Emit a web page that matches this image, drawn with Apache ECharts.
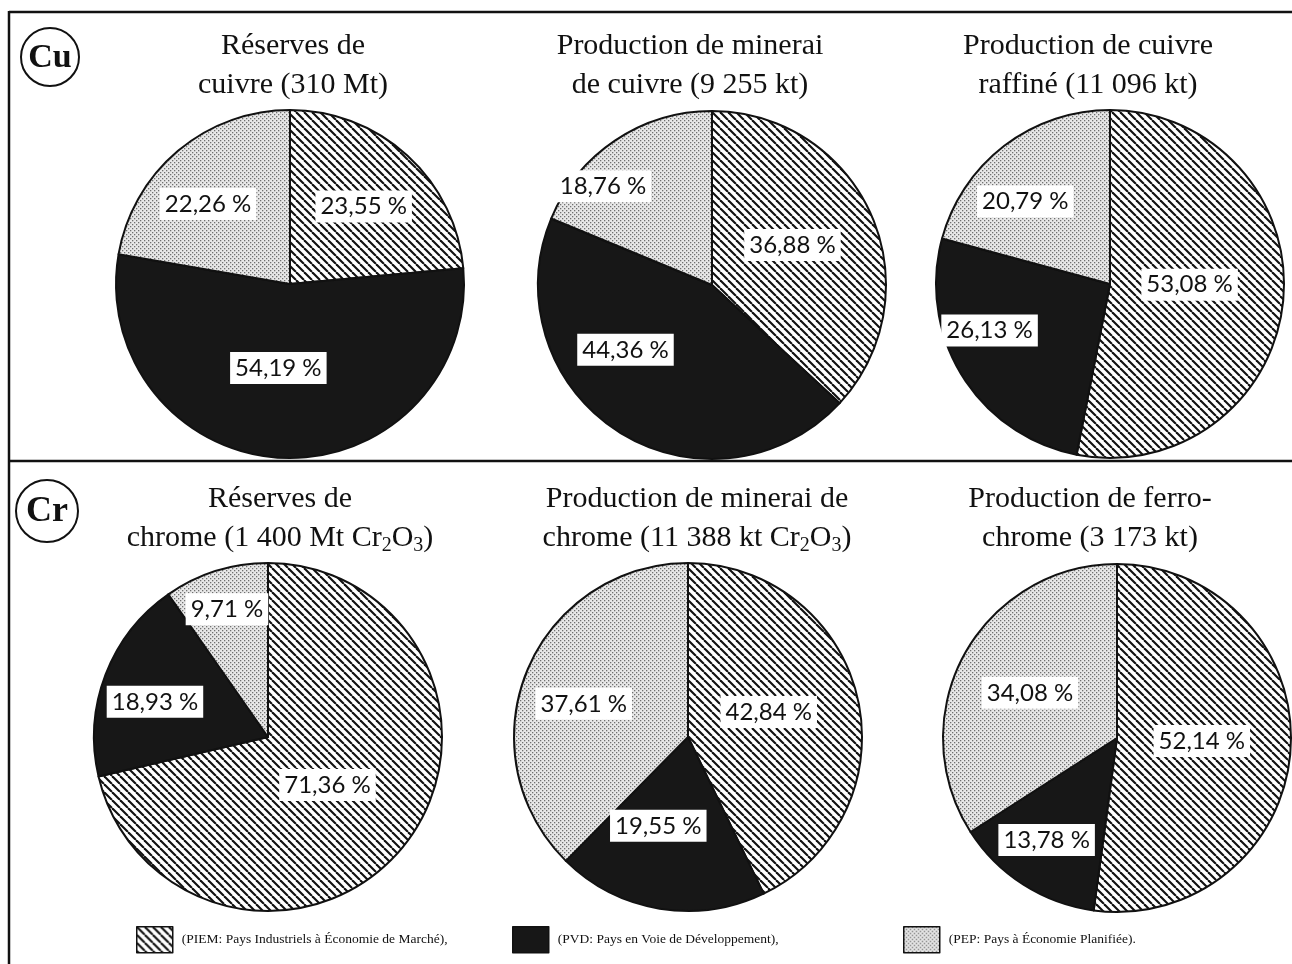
<!DOCTYPE html>
<html>
<head>
<meta charset="utf-8">
<script src="https://cdn.jsdelivr.net/npm/echarts@6/dist/echarts.min.js"></script>
<style>
  html, body { margin: 0; padding: 0; background: #fff; }
  #chart { width: 1292px; height: 964px; }
</style>
</head>
<body>
<div id="chart"></div>
<script>
// Shares (%) by country group, in the order PIEM, PVD, PEP
const groups = ['PIEM', 'PVD', 'PEP'];
const groupLabels = [
  '(PIEM: Pays Industriels à Économie de Marché),',
  '(PVD: Pays en Voie de Développement),',
  '(PEP: Pays à Économie Planifiée).'
];

const cuReserves   = [23.55, 54.19, 22.26];
const cuOre        = [36.88, 44.36, 18.76];
const cuRefined    = [53.08, 26.13, 20.79];
const crReserves   = [71.36, 18.93, 9.71];
const crOre        = [42.84, 19.55, 37.61];
const ferroChrome  = [52.14, 13.78, 34.08];

const pieTitles = [
  'Réserves de\ncuivre (310 Mt)',
  'Production de minerai\nde cuivre (9 255 kt)',
  'Production de cuivre\nraffiné (11 096 kt)',
  'Réserves de\nchrome (1 400 Mt Cr{sub|2}O{sub|3})',
  'Production de minerai de\nchrome (11 388 kt Cr{sub|2}O{sub|3})',
  'Production de ferro-\nchrome (3 173 kt)'
];
const pieValues = [cuReserves, cuOre, cuRefined, crReserves, crOre, ferroChrome];

// ---- layout ----
const pieCenters = [[290, 284], [712, 285], [1110, 284], [268, 737], [688, 737], [1117, 738]];
const pieRadius = 174;
const titleX = [293, 690, 1088, 280, 697, 1090];
const titleTop = [27, 27, 27, 480, 480, 480];
// label nudges away from the default inside position
const labelNudge = [
  [[13, -11], [-8, -6], [-24, -11]],
  [[-2, -4], [-38, -11], [-59, -24]],
  [[-10, -8], [-44, -1], [-30, -11]],
  [[-11, -8], [-29, -3], [-14, -42]],
  [[-7, -5], [-15, 0], [-21, 1]],
  [[-5, -3], [-22, 26], [-8, -2]]
];

// ---- fill patterns ----
function hatchPattern() {
  const s = 8;
  const c = document.createElement('canvas');
  c.width = s; c.height = s;
  const g = c.getContext('2d');
  g.fillStyle = '#fff';
  g.fillRect(0, 0, s, s);
  g.strokeStyle = '#111';
  g.lineWidth = 2.1;
  for (let k = -1; k <= 1; k++) {
    g.beginPath();
    g.moveTo(k * s, 0);
    g.lineTo((k + 1) * s, s);
    g.stroke();
  }
  return { image: c, repeat: 'repeat' };
}
function dotPattern() {
  const s = 4;
  const c = document.createElement('canvas');
  c.width = s; c.height = s;
  const g = c.getContext('2d');
  g.fillStyle = '#e8e8e8';
  g.fillRect(0, 0, s, s);
  g.fillStyle = '#707070';
  g.fillRect(0, 0, 1.3, 1.3);
  g.fillRect(2, 2, 1.3, 1.3);
  return { image: c, repeat: 'repeat' };
}
const fills = [hatchPattern(), '#171717', dotPattern()];

const serif = '"Liberation Serif", "DejaVu Serif", serif';

function fmt(v) {
  return v.toFixed(2).replace('.', ',') + ' %';
}

const series = pieValues.map((vals, i) => ({
  type: 'pie',
  center: pieCenters[i],
  radius: pieRadius,
  startAngle: 90,
  clockwise: true,
  avoidLabelOverlap: false,
  silent: true,
  animation: false,
  labelLine: { show: false },
  label: {
    show: true,
    position: 'inside',
    formatter: p => fmt(p.value),
    fontFamily: 'Lato, "Noto Sans", sans-serif',
    fontSize: 24,
    color: '#111',
    backgroundColor: '#fff',
    padding: [5, 5, 3, 5]
  },
  itemStyle: { borderColor: '#111', borderWidth: 2 },
  emphasis: { disabled: true },
  data: vals.map((v, j) => ({
    name: groups[j],
    value: v,
    itemStyle: { color: fills[j] },
    label: { offset: labelNudge[i][j] }
  }))
}));

const titles = pieTitles.map((t, i) => ({
  text: t,
  left: titleX[i],
  top: titleTop[i],
  textAlign: 'center',
  padding: 0,
  textStyle: {
    fontFamily: serif,
    fontWeight: 'normal',
    fontSize: 30,
    lineHeight: 39,
    color: '#111',
    rich: {
      sub: { fontFamily: serif, fontSize: 20, padding: [14, 0, 0, 0], color: '#111' }
    }
  }
}));

const legendLeft = [136, 512, 903];
const legends = groups.map((g, j) => ({
  data: [g],
  left: legendLeft[j],
  top: 926,
  orient: 'horizontal',
  selectedMode: false,
  icon: 'rect',
  itemWidth: 36,
  itemHeight: 26,
  itemGap: 10,
  padding: 0,
  itemStyle: { borderColor: '#111', borderWidth: 1.5 },
  formatter: name => groupLabels[groups.indexOf(name)],
  textStyle: { fontFamily: serif, fontSize: 13.5, color: '#111', padding: [0, 0, 0, 4] }
}));

const frameLine = { stroke: '#111', lineWidth: 2.5 };
const graphic = [
  { type: 'line', shape: { x1: 9, y1: 12, x2: 1292, y2: 12 }, style: frameLine, silent: true },
  { type: 'line', shape: { x1: 9, y1: 461, x2: 1292, y2: 461 }, style: frameLine, silent: true },
  { type: 'line', shape: { x1: 9, y1: 11, x2: 9, y2: 964 }, style: frameLine, silent: true },
  { type: 'circle', shape: { cx: 50, cy: 57, r: 29 }, style: { fill: '#fff', stroke: '#111', lineWidth: 2 } },
  { type: 'text', x: 50, y: 58, style: { text: 'Cu', font: 'bold 34px ' + serif, fill: '#111', align: 'center', verticalAlign: 'middle' } },
  { type: 'circle', shape: { cx: 47, cy: 511, r: 31 }, style: { fill: '#fff', stroke: '#111', lineWidth: 2 } },
  { type: 'text', x: 47, y: 512, style: { text: 'Cr', font: 'bold 36px ' + serif, fill: '#111', align: 'center', verticalAlign: 'middle' } }
];

const chart = echarts.init(document.getElementById('chart'), null, { renderer: 'canvas' });
chart.setOption({
  backgroundColor: '#fff',
  animation: false,
  title: titles,
  legend: legends,
  graphic: graphic,
  series: series
});
</script>
</body>
</html>
